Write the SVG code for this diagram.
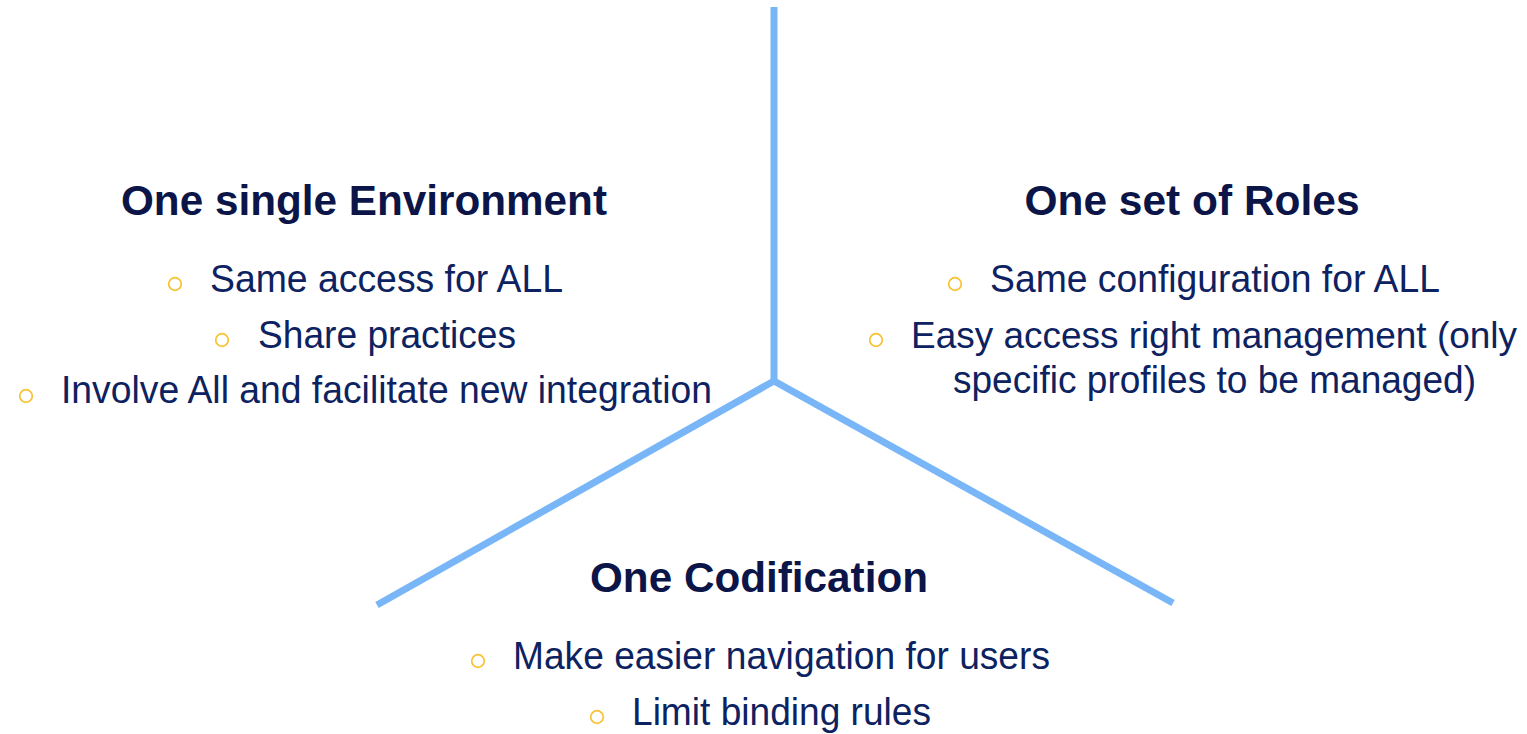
<svg xmlns="http://www.w3.org/2000/svg" width="1527" height="734" viewBox="0 0 1527 734">
<style>
.title{font-family:"Liberation Sans",Arial,sans-serif;font-weight:bold;font-size:42px;fill:#0c1548;text-anchor:middle}
.item{font-family:"Liberation Sans",Arial,sans-serif;font-size:38px;fill:#0d2260}
.bul{fill:none;stroke:#f8c232;stroke-width:1.7}
.conn{stroke:#78b6f8;stroke-width:7;fill:none;stroke-linecap:butt}
</style>
<rect width="1527" height="734" fill="#ffffff"/>
<g id="connectors">
<line class="conn" x1="774" y1="7" x2="774" y2="381"/>
<polyline class="conn" points="377,605 774,381 1173,603"/>
</g>
<g id="env">
<text class="title" x="364" y="215" textLength="486" lengthAdjust="spacingAndGlyphs">One single Environment</text>
<circle class="bul" cx="175" cy="284" r="6.3"/>
<text class="item" x="210" y="292" textLength="353" lengthAdjust="spacingAndGlyphs">Same access for ALL</text>
<circle class="bul" cx="222" cy="340" r="6.3"/>
<text class="item" x="258" y="348" textLength="258" lengthAdjust="spacingAndGlyphs">Share practices</text>
<circle class="bul" cx="26" cy="396" r="6.3"/>
<text class="item" x="61" y="403" textLength="651" lengthAdjust="spacingAndGlyphs">Involve All and facilitate new integration</text>
</g>
<g id="roles">
<text class="title" x="1192" y="215" textLength="335" lengthAdjust="spacingAndGlyphs">One set of Roles</text>
<circle class="bul" cx="955" cy="284" r="6.3"/>
<text class="item" x="990" y="292" textLength="450" lengthAdjust="spacingAndGlyphs">Same configuration for ALL</text>
<circle class="bul" cx="876" cy="340" r="6.3"/>
<text class="item" x="911" y="348" style="font-size:37px" textLength="606" lengthAdjust="spacingAndGlyphs">Easy access right management (only</text>
<text class="item" x="953" y="393" textLength="523" lengthAdjust="spacingAndGlyphs">specific profiles to be managed)</text>
</g>
<g id="codif">
<text class="title" x="759" y="592" textLength="338" lengthAdjust="spacingAndGlyphs">One Codification</text>
<circle class="bul" cx="478" cy="661" r="6.3"/>
<text class="item" x="513" y="669" textLength="537" lengthAdjust="spacingAndGlyphs">Make easier navigation for users</text>
<circle class="bul" cx="597" cy="717" r="6.3"/>
<text class="item" x="632" y="725" textLength="299" lengthAdjust="spacingAndGlyphs">Limit binding rules</text>
</g>
</svg>
